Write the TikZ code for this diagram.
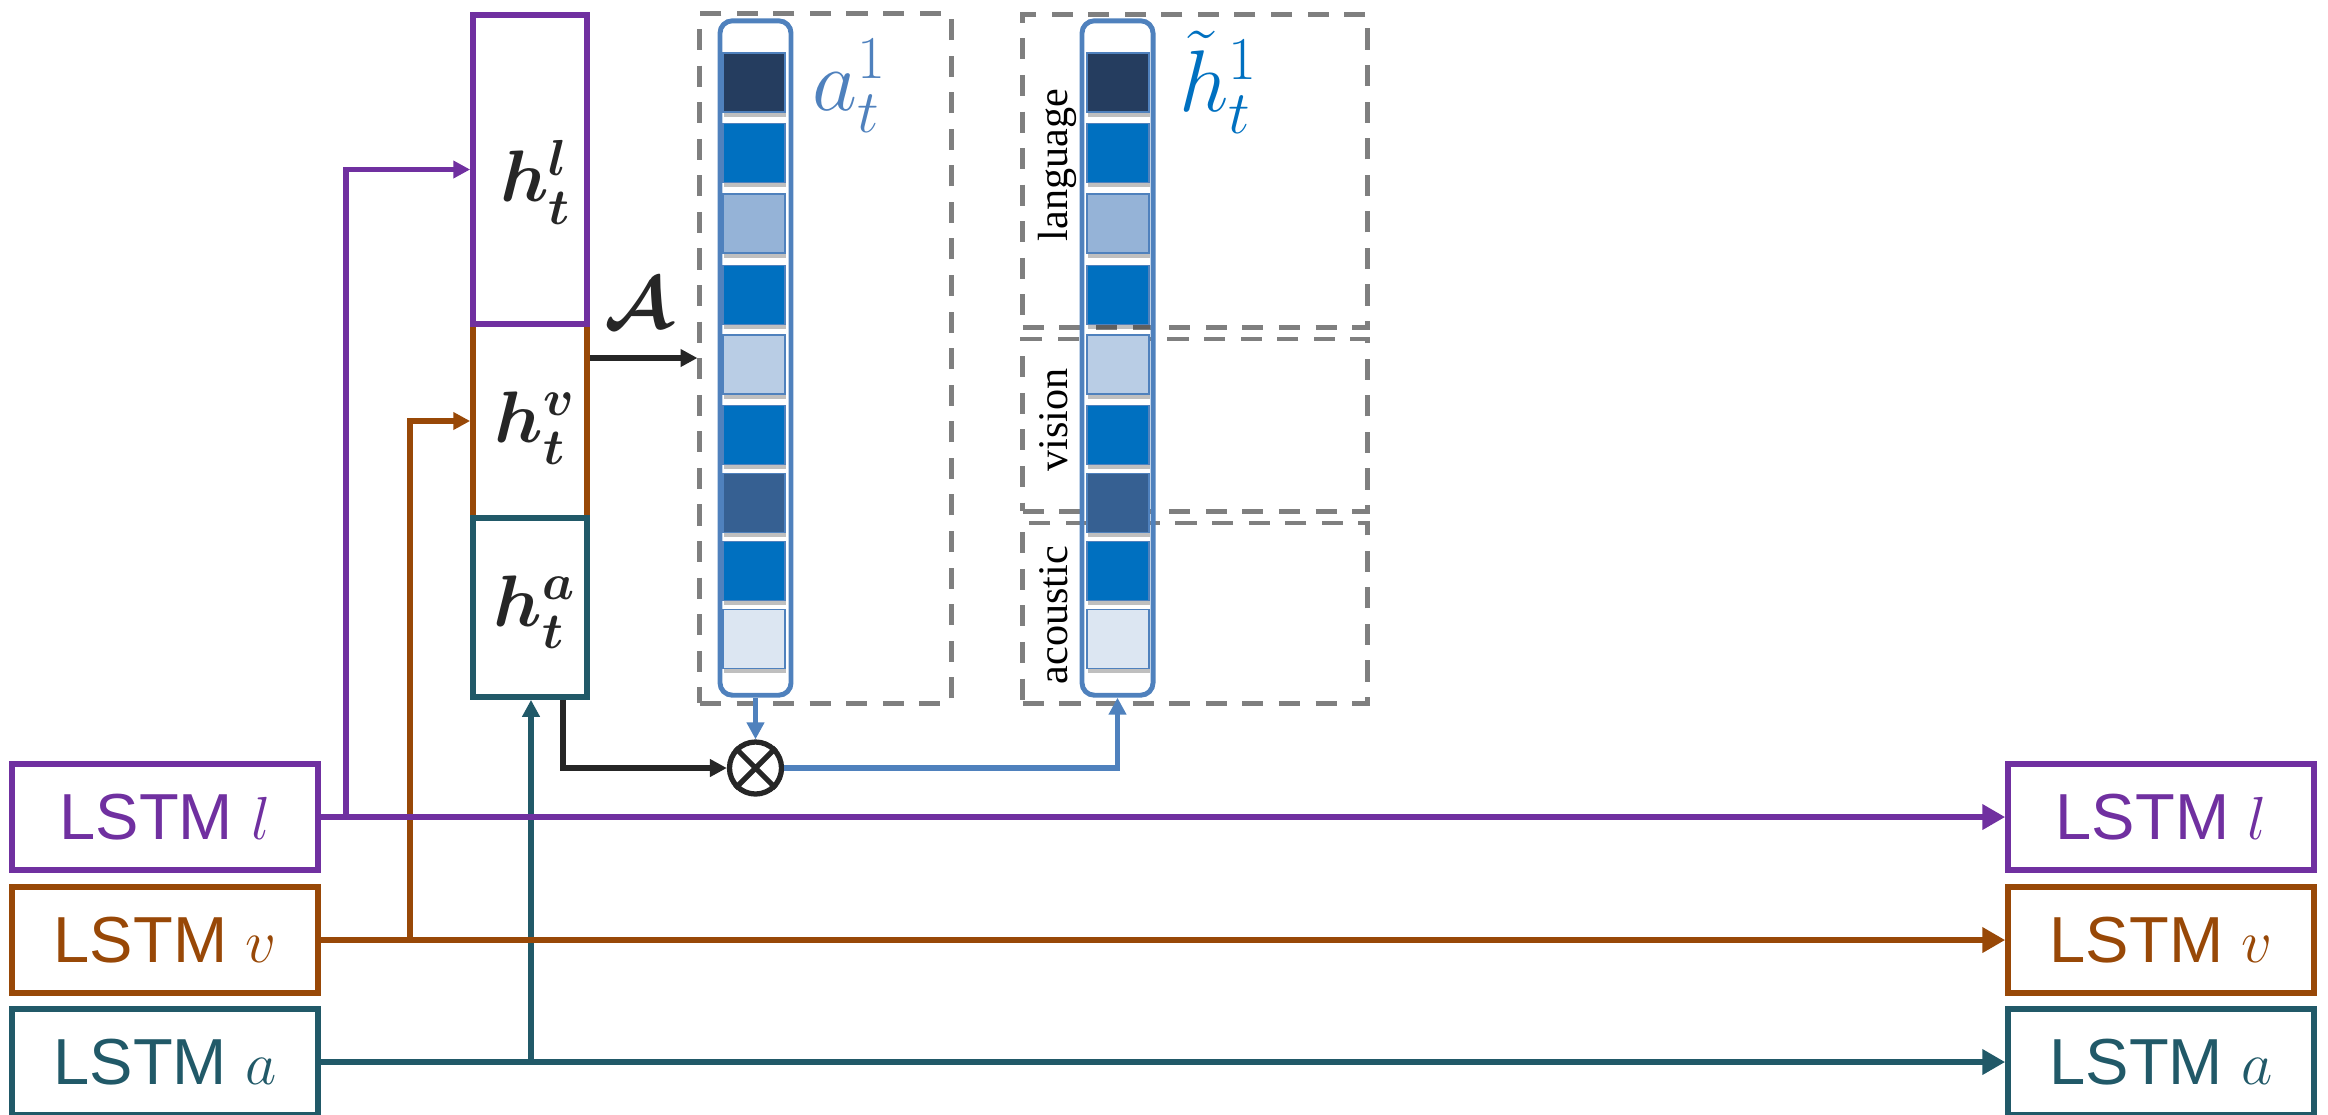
\documentclass[tikz,border=0pt]{standalone}
\usepackage{fontspec}
\setmainfont{Liberation Serif}
\newfontfamily\sansf{Liberation Sans}
\usetikzlibrary{arrows.meta,shadows}
\definecolor{cpurple}{HTML}{7030A0}
\definecolor{corange}{HTML}{984807}
\definecolor{cteal}{HTML}{215968}
\definecolor{cblue}{HTML}{4F81BD}
\definecolor{ctxtblue}{HTML}{0070C0}
\definecolor{cdash}{HTML}{7F7F7F}
\definecolor{cdark}{HTML}{262626}
\definecolor{cA}{HTML}{253D5F}
\definecolor{cB}{HTML}{0070C0}
\definecolor{cC}{HTML}{95B3D7}
\definecolor{cD}{HTML}{B9CDE5}
\definecolor{cE}{HTML}{366092}
\definecolor{cF}{HTML}{DCE6F2}
\tikzset{
  lstm/.style={draw, line width=1.6pt, minimum width=3.06cm, minimum height=1.06cm, inner sep=0pt, font=\fontsize{18.5}{22}\selectfont\sansf},
  hbox/.style={draw, line width=1.6pt, minimum width=1.14cm, inner sep=0pt},
  hlab/.style={inner sep=0pt, text=cdark, font=\fontsize{22}{26}\selectfont\boldmath},
  dbox/.style={draw=cdash, line width=1.4pt, dash pattern=on 6pt off 4.4pt, inner sep=0pt},
  col/.style={draw=cblue, line width=1.4pt, rounded corners=3.5pt, minimum width=0.71cm, minimum height=6.74cm, inner sep=0pt},
  cell/.style={draw=cblue, line width=0.5pt, minimum width=0.62cm, minimum height=0.59cm, inner sep=0pt,
    drop shadow={shadow xshift=0.4pt, shadow yshift=-1.4pt, opacity=0.25, fill=black}},
  conn/.style={line width=1.5pt},
  sarr/.style={-{Triangle[length=4.8pt,width=4.8pt]}},
  barr/.style={-{Triangle[length=6.5pt,width=7pt]}},
  modl/.style={rotate=90, anchor=base, inner sep=0pt, font=\fontsize{12}{14}\selectfont},
  biglab/.style={inner sep=0pt, font=\fontsize{24}{28}\selectfont}
}
\begin{document}
\begin{tikzpicture}[x=0.01cm, y=-0.01cm]
\useasboundingbox (0,0) rectangle (2328,1114);

% dashed groups
\node[dbox, minimum width=2.51cm, minimum height=6.89cm] (da) at (825.5,358.5) {};
\node[dbox, minimum width=3.44cm, minimum height=3.12cm] (dl) at (1195,171) {};
\node[dbox, minimum width=3.44cm, minimum height=1.72cm] (dv) at (1195,425) {};
\node[dbox, minimum width=3.44cm, minimum height=1.80cm] (dac) at (1195,613) {};

% vectors
\node[col] (ca) at (755.5,358) {};
\node[col] (ch) at (1117.5,358) {};
\foreach \i/\y/\c in {1/82.5/cA, 2/153/cB, 3/223.5/cC, 4/295/cB, 5/364.5/cD, 6/435/cB, 7/503/cE, 8/571/cB, 9/639/cF} {
  \node[cell, fill=\c] (a\i) at (754,\y) {};
  \node[cell, fill=\c] (h\i) at (1118,\y) {};
}
\node[biglab, text=cblue] (alab) at (850,86) {$a_t^1$};
\node[biglab, text=ctxtblue] (hlab) at (1219,82) {$\tilde{h}_t^1$};

\node[modl] (mlang) at (1067,165) {language};
\node[modl] (mvis) at (1067,420) {vision};
\node[modl] (macou) at (1067,615) {acoustic};

% hidden state stack
\node[hbox, draw=corange, minimum height=1.94cm] (hv) at (530,421) {};
\node[hbox, draw=cpurple, minimum height=3.09cm] (hl) at (530,169.5) {};
\node[hbox, draw=cteal, minimum height=1.79cm] (ha) at (530,607.5) {};
\node[hlab] (hltxt) at (536,182) {$h_t^l$};
\node[hlab] (hvtxt) at (535,428) {$h_t^v$};
\node[hlab] (hatxt) at (535,612) {$h_t^a$};

% LSTM boxes
\node[lstm, draw=cpurple, text=cpurple] (Ll) at (165,817) {LSTM $l$};
\node[lstm, draw=corange, text=corange] (Lv) at (165,940) {LSTM $v$};
\node[lstm, draw=cteal, text=cteal] (La) at (165,1062) {LSTM $a$};
\node[lstm, draw=cpurple, text=cpurple] (Rl) at (2161,817) {LSTM $l$};
\node[lstm, draw=corange, text=corange] (Rv) at (2161,940) {LSTM $v$};
\node[lstm, draw=cteal, text=cteal] (Ra) at (2161,1062) {LSTM $a$};

% otimes
\node[circle, draw=cdark, line width=1.5pt, minimum size=0.52cm, inner sep=0pt] (ot) at (755.5,768) {};
\draw[cdark, line width=1.5pt] (ot.north east) -- (ot.south west) (ot.north west) -- (ot.south east);

% connectors (teal, orange, purple order)
\draw[conn, cteal, barr] (La.east) -- (Ra.west);
\draw[conn, cteal, sarr] (531,0 |- La.east) -- (531,0 |- ha.south);
\draw[conn, corange, barr] (Lv.east) -- (Rv.west);
\draw[conn, corange, sarr] (410,0 |- Lv.east) |- (hv.west);
\draw[conn, cpurple, barr] (Ll.east) -- (Rl.west);
\draw[conn, cpurple, sarr] (346,0 |- Ll.east) |- (hl.west);

\draw[conn, cdark, sarr] (hv.east |- 0,358) -- (da.west |- 0,358);
\node[inner sep=0pt, text=cdark, font=\fontsize{21}{25}\selectfont\boldmath] (Acal) at (638,303) {$\mathcal{A}$};

\draw[conn, cdark, sarr] (563,0 |- ha.south) |- (ot.west);
\draw[conn, cblue, sarr] (ca.south) -- (ot.north);
\draw[conn, cblue, sarr] (ot.east) -| (ch.south);
\end{tikzpicture}
\end{document}
